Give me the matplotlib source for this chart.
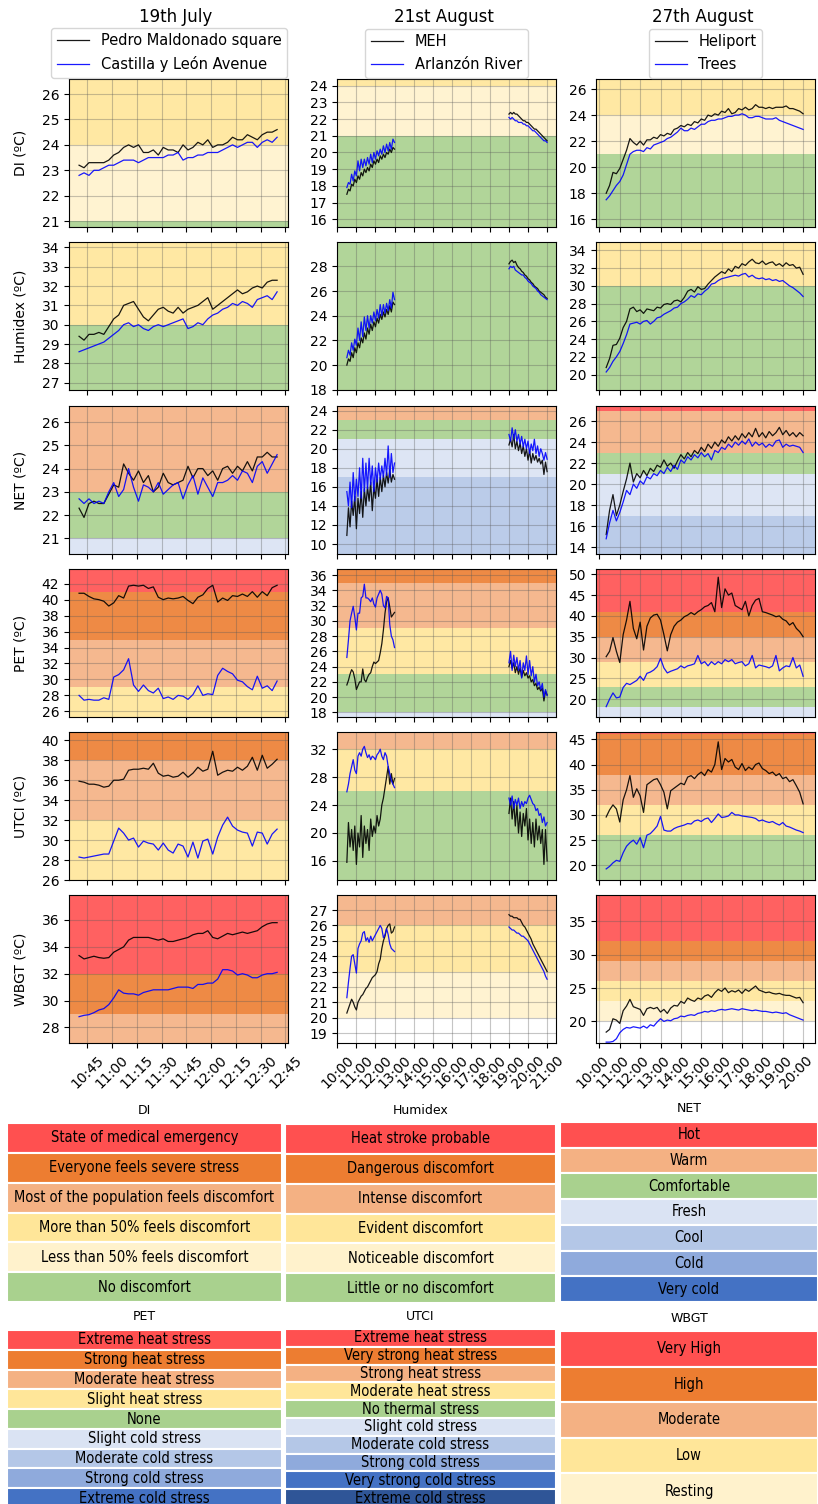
import numpy as np
import matplotlib
matplotlib.use("Agg")
import matplotlib.pyplot as plt
from matplotlib.ticker import MultipleLocator, FixedLocator, FuncFormatter
from matplotlib.transforms import ScaledTranslation
from matplotlib import font_manager

W, H = 818, 1504

# ---------- sampling times (minutes after midnight) ----------
JUL19_TIMES = list(range(640, 761, 3))
AUG21_TIMES = list(range(630, 781, 5)) + list(range(1140, 1261, 5))
AUG27_TIMES = list(range(620, 1201, 10))

# ---------- 19th July: Pedro Maldonado square / Castilla y Leon Avenue ----------
DI_JUL19_PEDRO = [23.2, 23.1, 23.3, 23.3, 23.3, 23.3, 23.4, 23.6, 23.7, 23.9,
                  24.0, 23.9, 24.0, 23.7, 23.7, 23.8, 23.6, 23.9, 23.8, 23.8,
                  23.7, 24.0, 23.8, 23.9, 24.1, 24.0, 24.2, 23.9, 24.0, 24.0,
                  24.1, 24.3, 24.2, 24.2, 24.4, 24.3, 24.2, 24.4, 24.5, 24.5, 24.6]
DI_JUL19_CASTILLA = [22.8, 22.9, 22.8, 23.0, 23.0, 23.1, 23.2, 23.2, 23.3, 23.4,
                     23.4, 23.4, 23.3, 23.4, 23.5, 23.5, 23.5, 23.5, 23.6, 23.6,
                     23.7, 23.4, 23.5, 23.5, 23.6, 23.6, 23.7, 23.7, 23.7, 23.8,
                     23.9, 24.0, 23.9, 24.0, 24.1, 24.1, 23.9, 24.1, 24.2, 24.1, 24.3]
HUMIDEX_JUL19_PEDRO = [29.4, 29.2, 29.5, 29.5, 29.6, 29.5, 29.9, 30.3, 30.5, 31.0,
                       31.1, 31.2, 30.8, 30.4, 30.2, 30.5, 30.8, 30.9, 30.7, 30.6,
                       30.9, 30.6, 30.8, 30.9, 31.0, 31.2, 31.4, 30.8, 31.0, 31.2,
                       31.4, 31.6, 31.8, 31.6, 31.7, 31.9, 32.0, 31.9, 32.2, 32.3, 32.3]
HUMIDEX_JUL19_CASTILLA = [28.6, 28.7, 28.8, 28.9, 29.0, 29.1, 29.3, 29.5, 29.7, 30.0,
                          30.1, 29.9, 30.0, 29.8, 29.7, 29.9, 30.0, 29.9, 30.0, 30.1,
                          30.2, 30.3, 29.8, 29.9, 30.1, 30.0, 30.3, 30.5, 30.6, 30.8,
                          30.9, 31.1, 31.0, 31.2, 31.1, 30.9, 31.3, 31.4, 31.5, 31.3, 31.7]
NET_JUL19_PEDRO = [22.3, 21.9, 22.5, 22.6, 22.5, 22.5, 22.9, 23.3, 23.2, 24.2,
                   23.8, 23.5, 23.9, 23.4, 23.7, 23.0, 23.2, 23.8, 23.4, 23.3,
                   23.4, 23.5, 24.1, 23.6, 24.0, 24.0, 23.7, 23.9, 23.5, 24.0,
                   24.1, 23.8, 24.1, 23.9, 24.3, 23.9, 24.5, 24.5, 24.7, 24.5, 24.5]
NET_JUL19_CASTILLA = [22.7, 22.5, 22.7, 22.5, 22.6, 22.5, 23.0, 23.4, 22.8, 23.1,
                      24.0, 23.2, 22.6, 23.3, 23.2, 23.0, 23.4, 22.9, 23.1, 23.3,
                      23.4, 22.7, 23.3, 23.7, 22.9, 23.6, 23.2, 22.8, 23.4, 23.4,
                      23.5, 23.7, 23.5, 23.9, 23.8, 23.4, 24.1, 24.3, 23.8, 24.2, 24.6]
PET_JUL19_PEDRO = [40.8, 40.8, 40.4, 40.1, 40.0, 39.8, 39.2, 39.6, 40.5, 40.2,
                   41.7, 41.8, 41.7, 41.8, 41.4, 41.6, 40.3, 40.0, 40.2, 40.1,
                   40.2, 40.4, 39.9, 39.5, 40.3, 40.6, 41.4, 41.8, 39.7, 40.2,
                   39.9, 40.5, 40.4, 40.7, 40.4, 41.0, 40.3, 41.0, 40.5, 41.5, 41.8]
PET_JUL19_CASTILLA = [28.0, 27.4, 27.5, 27.4, 27.4, 27.7, 27.5, 30.3, 30.6, 31.2,
                      32.6, 29.3, 28.5, 29.3, 28.6, 28.3, 28.9, 27.6, 27.8, 27.5,
                      28.0, 27.9, 27.5, 28.1, 29.2, 28.0, 28.2, 28.1, 30.5, 31.4,
                      31.0, 30.7, 29.9, 29.7, 29.1, 28.7, 30.4, 28.9, 29.2, 28.6, 29.8]
UTCI_JUL19_PEDRO = [35.9, 35.8, 35.6, 35.6, 35.5, 35.3, 35.4, 36.0, 36.0, 36.1,
                    37.0, 37.1, 37.1, 37.2, 37.1, 37.7, 36.7, 36.4, 36.5, 36.3,
                    36.4, 36.8, 36.3, 36.7, 37.3, 36.9, 37.1, 38.9, 36.5, 36.8,
                    37.0, 36.9, 37.3, 37.0, 37.4, 38.3, 37.0, 38.5, 37.2, 37.6, 38.1]
UTCI_JUL19_CASTILLA = [28.3, 28.2, 28.3, 28.4, 28.5, 28.6, 28.6, 29.9, 31.2, 30.7,
                       30.0, 30.2, 29.3, 29.9, 29.7, 29.6, 29.0, 29.7, 29.0, 28.7,
                       29.6, 29.4, 28.3, 29.8, 28.2, 29.9, 30.1, 28.6, 30.3, 31.5,
                       32.3, 31.4, 31.0, 30.8, 30.7, 29.4, 30.8, 30.7, 29.6, 30.6, 31.1]
WBGT_JUL19_PEDRO = [33.35, 33.1, 33.2, 33.3, 33.2, 33.15, 33.2, 33.6, 33.8, 34.0,
                    34.5, 34.7, 34.7, 34.7, 34.7, 34.6, 34.5, 34.6, 34.4, 34.4,
                    34.5, 34.6, 34.7, 34.9, 35.0, 35.0, 35.2, 34.7, 34.6, 34.8,
                    35.0, 34.9, 35.0, 35.1, 35.0, 35.1, 35.2, 35.5, 35.7, 35.8, 35.8]
WBGT_JUL19_CASTILLA = [28.8, 28.9, 28.95, 29.1, 29.3, 29.4, 29.7, 30.2, 30.8, 30.55,
                       30.5, 30.5, 30.4, 30.6, 30.7, 30.8, 30.8, 30.8, 30.8, 30.9,
                       31.0, 31.0, 31.0, 30.9, 31.2, 31.2, 31.3, 31.3, 31.6, 32.3,
                       32.3, 32.2, 31.9, 32.0, 31.9, 31.7, 31.7, 31.9, 32.0, 32.0, 32.1]

# ---------- 21st August: MEH / Arlanzon River (morning + evening) ----------
DI_AUG21_MEH = [17.5, 17.8, 17.7, 18.1, 18.0, 18.4, 18.2, 18.6, 18.4, 18.8,
                18.6, 19.0, 18.8, 19.1, 18.9, 19.3, 19.1, 19.5, 19.3, 19.6,
                19.4, 19.8, 19.6, 19.9, 19.7, 20.0, 19.9, 20.2, 20.0, 20.3, 20.2,
                22.3, 22.4, 22.3, 22.4, 22.3, 22.3, 22.2, 22.1, 22.0, 21.9,
                21.9, 21.8, 21.8, 21.7, 21.6, 21.5, 21.4, 21.4, 21.3, 21.2,
                21.1, 21.0, 20.9, 20.8, 20.7]
DI_AUG21_RIVER = [17.9, 18.2, 18.1, 18.7, 18.3, 18.9, 18.6, 19.5, 18.9, 19.6,
                  19.1, 19.6, 19.2, 19.7, 19.3, 19.9, 19.4, 20.0, 19.6, 20.1,
                  19.8, 20.2, 19.9, 20.4, 20.0, 20.5, 20.1, 20.6, 20.2, 20.8, 20.6,
                  22.1, 22.0, 22.1, 22.0, 21.9, 21.9, 21.8, 21.8, 21.8, 21.7,
                  21.7, 21.6, 21.6, 21.5, 21.4, 21.3, 21.3, 21.2, 21.1, 21.0,
                  20.9, 20.8, 20.7, 20.7, 20.6]
HUMIDEX_AUG21_MEH = [20.0, 20.5, 20.3, 21.0, 20.6, 21.4, 21.0, 21.8, 21.4, 22.2,
                     21.8, 22.6, 22.1, 23.0, 22.5, 23.3, 22.8, 23.5, 23.1, 23.8,
                     23.4, 24.1, 23.7, 24.3, 23.9, 24.5, 24.1, 24.8, 24.3, 25.1, 24.9,
                     28.2, 28.4, 28.5, 28.3, 28.4, 28.1, 27.9, 27.8, 27.6, 27.5,
                     27.3, 27.2, 27.0, 26.9, 26.7, 26.6, 26.4, 26.3, 26.2, 26.0,
                     25.9, 25.8, 25.7, 25.5, 25.4]
HUMIDEX_AUG21_RIVER = [20.6, 21.2, 20.8, 21.8, 21.2, 22.1, 21.6, 23.0, 22.0, 23.5,
                       22.3, 23.9, 22.8, 24.0, 23.0, 24.0, 23.4, 24.3, 23.6, 24.5,
                       23.8, 24.9, 24.0, 24.9, 24.2, 25.0, 24.4, 25.3, 24.6, 25.9, 25.3,
                       27.8, 28.0, 27.9, 28.0, 27.7, 27.6, 27.5, 27.4, 27.3, 27.3,
                       27.1, 27.0, 26.8, 26.7, 26.6, 26.4, 26.3, 26.2, 26.0, 25.9,
                       25.7, 25.6, 25.5, 25.4, 25.3]
NET_AUG21_MEH = [10.9, 13.8, 11.8, 14.5, 13.0, 15.0, 11.6, 14.8, 13.2, 15.5,
                 12.8, 15.8, 14.0, 16.0, 14.5, 16.5, 13.5, 16.0, 14.8, 16.8,
                 15.0, 17.0, 15.5, 17.2, 16.0, 17.5, 16.4, 17.8, 16.5, 17.3, 16.8,
                 20.4, 21.0, 20.2, 21.5, 20.0, 20.8, 19.8, 20.6, 19.5, 20.3,
                 19.2, 20.0, 18.8, 19.8, 18.5, 19.5, 18.8, 19.3, 18.6, 19.0,
                 18.4, 18.8, 17.3, 18.6, 17.6]
NET_AUG21_RIVER = [15.5, 14.0, 16.5, 13.8, 17.5, 14.5, 16.8, 15.0, 18.0, 14.8,
                   19.0, 15.5, 18.5, 15.8, 19.0, 16.2, 18.2, 15.5, 18.0, 16.5,
                   18.5, 16.8, 18.2, 17.0, 19.0, 17.2, 20.3, 17.0, 19.5, 17.5, 18.5,
                   21.5, 20.8, 22.2, 21.0, 22.0, 20.8, 21.5, 20.5, 21.3, 20.2,
                   21.0, 20.0, 20.8, 19.5, 20.5, 19.8, 21.0, 19.5, 20.3, 19.2,
                   20.0, 19.5, 18.8, 19.6, 18.9]
PET_AUG21_MEH = [21.6, 22.2, 23.0, 23.6, 23.3, 22.4, 21.0, 21.5, 22.0, 22.0,
                 23.7, 22.3, 22.0, 22.6, 23.0, 23.2, 24.0, 24.6, 24.4, 24.6,
                 24.8, 25.8, 27.0, 28.8, 31.0, 32.5, 33.0, 31.8, 30.5, 30.8, 31.1,
                 24.0, 24.8, 23.8, 24.5, 23.2, 24.0, 23.0, 23.8, 22.6, 23.5,
                 22.8, 23.2, 22.5, 22.8, 22.0, 22.3, 21.5, 21.8, 21.0, 21.3,
                 20.8, 21.2, 19.5, 20.8, 20.3]
PET_AUG21_RIVER = [25.2, 27.5, 30.0, 31.0, 31.9, 30.5, 28.8, 31.0, 31.0, 33.0,
                   33.2, 34.8, 33.0, 33.0, 32.8, 32.5, 33.0, 32.2, 31.8, 33.0,
                   33.5, 34.0, 33.5, 32.0, 31.7, 33.2, 33.0, 29.5, 28.0, 27.5, 26.5,
                   24.5, 26.0, 23.5, 25.5, 24.0, 25.2, 23.5, 24.8, 22.5, 24.5,
                   23.5, 25.4, 23.0, 24.8, 22.8, 24.0, 22.0, 23.0, 21.5, 22.0,
                   21.0, 21.8, 20.0, 21.0, 20.2]
UTCI_AUG21_MEH = [15.8, 21.5, 18.0, 20.5, 17.5, 21.0, 15.5, 20.0, 18.0, 22.5,
                  16.5, 21.0, 18.5, 20.5, 17.5, 22.0, 19.5, 21.0, 20.0, 22.5,
                  21.0, 22.0, 24.0, 25.0, 26.5, 28.0, 29.5, 27.0, 28.5, 27.0, 27.8,
                  22.8, 25.0, 22.0, 24.5, 21.0, 24.0, 20.0, 23.0, 19.5, 22.8,
                  21.0, 23.5, 19.0, 22.0, 18.5, 21.5, 18.0, 22.0, 19.0, 21.0,
                  18.5, 20.5, 15.5, 20.5, 16.0]
UTCI_AUG21_RIVER = [25.9, 27.0, 28.5, 29.5, 30.5, 29.0, 28.5, 31.0, 31.5, 31.0,
                    32.0, 32.4, 31.5, 30.8, 31.2, 30.5, 31.0, 30.8, 30.5, 31.2,
                    31.5, 32.0, 31.0, 30.5, 31.5, 31.0, 29.5, 28.5, 27.5, 27.0, 26.5,
                    25.0, 24.0, 25.3, 23.5, 24.8, 24.0, 25.0, 23.5, 24.5, 23.8,
                    24.5, 24.2, 25.0, 25.4, 24.8, 24.2, 24.0, 23.2, 23.5, 22.5,
                    22.8, 21.5, 22.3, 21.0, 21.5]
WBGT_AUG21_MEH = [20.3, 20.6, 20.9, 21.2, 21.0, 20.7, 20.5, 21.0, 21.2, 21.4,
                  21.5, 21.7, 21.9, 22.0, 22.2, 22.4, 22.6, 22.7, 22.8, 23.0,
                  23.5, 23.8, 24.5, 25.0, 25.3, 25.8, 26.0, 26.1, 25.5, 25.6, 25.9,
                  26.7, 26.6, 26.6, 26.5, 26.5, 26.5, 26.4, 26.4, 26.2, 26.0,
                  25.9, 25.7, 25.5, 25.3, 25.1, 24.8, 24.6, 24.4, 24.2, 24.0,
                  23.8, 23.6, 23.4, 23.2, 23.0]
WBGT_AUG21_RIVER = [21.3, 22.3, 23.2, 24.0, 24.1, 23.5, 22.9, 24.5, 24.8, 25.0,
                    25.5, 25.6, 25.0, 25.2, 24.9, 25.3, 25.0, 25.2, 25.4, 25.6,
                    25.8, 26.0, 25.8, 25.2, 25.4, 25.8, 25.4, 24.8, 24.5, 24.4, 24.3,
                    25.9, 25.8, 25.7, 25.7, 25.6, 25.5, 25.5, 25.4, 25.3, 25.3,
                    25.2, 25.1, 25.0, 24.8, 24.6, 24.4, 24.2, 24.0, 23.8, 23.6,
                    23.4, 23.2, 23.0, 22.7, 22.5]

# ---------- 27th August: Heliport / Trees ----------
DI_AUG27_HELIPORT = [18.0, 18.6, 19.6, 19.5, 19.9, 20.6, 21.3, 22.2, 21.9, 21.7,
                     22.0, 21.7, 22.1, 22.1, 22.3, 22.2, 22.5, 22.4, 22.6, 22.5,
                     22.9, 23.0, 23.2, 23.1, 23.3, 23.2, 23.5, 23.4, 23.7, 23.6,
                     24.0, 23.9, 24.1, 24.0, 24.3, 24.2, 24.5, 24.1, 24.2, 24.5,
                     24.4, 24.6, 24.4, 24.5, 24.8, 24.6, 24.6, 24.5, 24.6, 24.5,
                     24.6, 24.6, 24.6, 24.7, 24.5, 24.5, 24.4, 24.3, 24.1]
DI_AUG27_TREES = [17.5, 17.8, 18.2, 18.6, 18.9, 19.4, 20.2, 21.0, 21.2, 21.3,
                  21.3, 21.2, 21.5, 21.4, 21.7, 21.8, 21.9, 22.0, 22.2, 22.3,
                  22.5, 22.7, 23.0, 22.8, 22.8, 23.0, 22.9, 23.1, 23.3, 23.3,
                  23.5, 23.6, 23.6, 23.7, 23.7, 23.8, 23.9, 23.9, 24.0, 24.0,
                  24.1, 24.0, 23.8, 23.8, 23.9, 23.9, 23.8, 23.7, 23.7, 23.7,
                  23.8, 23.6, 23.5, 23.4, 23.3, 23.2, 23.1, 23.0, 22.9]
HUMIDEX_AUG27_HELIPORT = [20.8, 21.8, 23.3, 23.4, 24.1, 25.3, 26.0, 27.4, 27.6, 27.1,
                          27.3, 26.9, 27.4, 27.3, 27.2, 27.6, 27.5, 27.9, 28.0, 27.9,
                          28.3, 28.4, 28.2, 28.7, 29.4, 29.6, 29.3, 29.9, 29.6, 29.7,
                          30.2, 30.6, 31.0, 31.3, 31.6, 31.4, 31.9, 31.6, 32.2, 32.0,
                          32.5, 32.3, 32.7, 33.0, 32.6, 32.5, 32.8, 32.4, 32.6, 32.7,
                          32.3, 32.5, 32.2, 32.6, 32.3, 32.4, 32.0, 32.1, 31.3]
HUMIDEX_AUG27_TREES = [20.3, 20.8, 21.5, 22.0, 22.6, 23.5, 24.5, 25.7, 25.8, 25.9,
                       25.7, 26.0, 26.1, 25.7, 26.0, 26.4, 26.5, 26.8, 27.0, 27.2,
                       27.5, 27.6, 28.0, 28.2, 28.5, 28.9, 28.7, 29.1, 29.0, 29.4,
                       29.7, 30.2, 30.3, 30.6, 30.8, 30.9, 31.0, 31.1, 31.2, 31.1,
                       31.3, 31.4, 31.0, 31.2, 30.9, 30.8, 30.9, 30.7, 30.8, 30.6,
                       30.7, 30.5, 30.6, 30.3, 30.0, 29.8, 29.5, 29.2, 28.8]
NET_AUG27_HELIPORT = [15.2, 17.5, 19.0, 17.0, 18.0, 19.3, 20.5, 22.0, 20.2, 21.0,
                      20.6, 21.3, 20.8, 21.5, 21.2, 21.8, 21.6, 22.3, 21.7, 22.0,
                      21.5, 22.2, 22.8, 22.4, 23.0, 22.6, 23.2, 22.9, 23.5, 23.1,
                      23.8, 23.4, 24.0, 23.6, 24.2, 23.9, 24.5, 24.1, 24.6, 24.2,
                      24.8, 24.4, 24.9, 24.5, 25.3, 24.5, 24.9, 24.4, 25.0, 24.6,
                      24.9, 25.4, 24.7, 25.1, 24.6, 24.9, 24.5, 24.9, 24.6]
NET_AUG27_TREES = [14.8, 16.3, 17.5, 16.5, 17.3, 18.3, 19.4, 19.0, 20.0, 19.6,
                   20.3, 20.0, 20.7, 20.5, 21.0, 20.8, 21.3, 21.0, 21.6, 21.2,
                   21.8, 21.4, 22.3, 22.0, 22.6, 22.3, 22.8, 22.5, 23.0, 22.6,
                   22.9, 22.3, 23.2, 23.0, 23.5, 23.3, 23.8, 23.5, 24.0, 23.7,
                   24.1, 23.8, 24.3, 23.6, 24.0, 23.7, 23.9, 23.5, 23.8, 23.6,
                   24.1, 24.2, 23.5, 23.8, 23.6, 23.7, 23.6, 23.5, 23.0]
PET_AUG27_HELIPORT = [30.2, 31.5, 34.8, 31.5, 28.8, 35.5, 39.0, 43.5, 37.0, 34.5,
                      38.5, 31.8, 37.5, 39.5, 40.2, 40.4, 39.0, 35.5, 31.6, 35.5,
                      37.5, 38.5, 39.0, 39.8, 40.2, 40.8, 40.3, 41.0, 41.5, 42.2,
                      42.5, 43.2, 41.0, 49.3, 42.0, 46.5, 45.0, 45.5, 42.5, 42.0,
                      41.5, 43.5, 40.0, 42.5, 43.8, 44.2, 41.0, 40.8, 40.5, 40.2,
                      39.8, 40.0, 39.2, 38.8, 37.8, 38.4, 37.0, 36.2, 35.0]
PET_AUG27_TREES = [18.2, 20.0, 21.5, 20.3, 20.5, 22.8, 23.8, 23.5, 24.0, 24.5,
                   25.5, 24.5, 26.2, 26.5, 27.0, 27.8, 29.8, 27.5, 26.3, 26.7,
                   27.0, 27.3, 28.0, 27.5, 28.0, 28.2, 28.5, 30.5, 28.5, 29.0,
                   28.0, 29.0, 28.3, 29.0, 28.5, 29.5, 29.0, 29.5, 28.5, 28.8,
                   29.0, 28.0, 28.5, 30.5, 27.5, 28.2, 28.0, 27.8, 27.5, 28.0,
                   30.5, 26.8, 27.5, 28.0, 27.8, 30.0, 27.5, 28.2, 25.5]
UTCI_AUG27_HELIPORT = [29.6, 31.0, 32.0, 31.2, 28.6, 33.0, 35.0, 37.8, 33.5, 35.2,
                       33.8, 30.5, 36.0, 36.5, 37.0, 37.2, 36.0, 34.5, 31.2, 34.8,
                       35.3, 35.8, 36.3, 36.0, 37.5, 37.8, 37.2, 38.0, 38.5, 37.8,
                       39.0, 38.5, 40.0, 44.5, 39.0, 41.2, 40.5, 41.0, 39.5, 39.0,
                       40.2, 38.8, 39.5, 39.0, 40.0, 40.3, 39.2, 38.8, 38.2, 38.5,
                       37.8, 38.2, 37.2, 37.5, 36.6, 37.0, 35.8, 34.5, 32.2]
UTCI_AUG27_TREES = [19.3, 19.8, 20.5, 21.0, 20.8, 22.5, 23.8, 24.5, 25.0, 24.2,
                    25.5, 23.5, 26.0, 26.3, 27.0, 27.8, 29.7, 27.0, 26.8, 26.8,
                    27.3, 27.6, 27.8, 28.0, 28.3, 28.2, 28.8, 29.0, 28.7, 29.2,
                    29.4, 28.5, 29.3, 30.2, 29.5, 29.6, 29.8, 30.5, 30.0, 30.0,
                    29.8, 29.7, 29.6, 29.5, 29.3, 28.8, 29.0, 28.7, 28.5, 28.7,
                    28.3, 28.0, 28.5, 27.8, 27.6, 27.3, 27.0, 26.8, 26.5]
WBGT_AUG27_HELIPORT = [18.4, 18.8, 20.4, 20.2, 19.7, 21.6, 22.3, 23.3, 22.2, 22.0,
                       21.8, 20.9, 21.9, 22.1, 21.9, 22.1, 21.4, 21.8, 21.2, 22.0,
                       22.4, 22.3, 23.0, 22.7, 23.5, 23.2, 23.0, 23.5, 23.3, 23.8,
                       24.0, 23.6, 24.3, 24.8, 24.5, 25.0, 24.3, 24.6, 24.4, 24.7,
                       24.2, 24.8, 24.5, 24.9, 25.3, 24.7, 24.5, 24.3, 24.4, 24.2,
                       24.1, 24.2, 24.0, 23.9, 23.9, 23.7, 23.5, 23.6, 22.8]
WBGT_AUG27_TREES = [16.9, 16.9, 17.0, 17.4, 18.3, 18.8, 19.1, 19.0, 19.2, 19.1,
                    19.0, 19.3, 19.0, 19.5, 19.3, 19.9, 20.4, 20.0, 20.2, 20.1,
                    20.4, 20.5, 20.8, 20.7, 20.9, 21.0, 20.9, 21.2, 21.3, 21.5,
                    21.4, 21.6, 21.5, 21.7, 21.8, 21.7, 21.8, 21.9, 21.8, 21.7,
                    21.9, 21.8, 21.7, 21.6, 21.7, 21.6, 21.5, 21.5, 21.4, 21.3,
                    21.4, 21.3, 21.2, 21.3, 21.0, 20.8, 20.6, 20.4, 20.2]

DAY_TITLES = ["19th July", "21st August", "27th August"]
SITES = [["Pedro Maldonado square", "Castilla y León Avenue"],
         ["MEH", "Arlanzón River"],
         ["Heliport", "Trees"]]
INDICES = ["DI", "Humidex", "NET", "PET", "UTCI", "WBGT"]

# ---------- colours ----------
RED = "#FF5050"
ORANGE = "#ED7D31"
LORANGE = "#F4B183"
YELLOW = "#FFE699"
LYELLOW = "#FFF2CC"
GREEN = "#A9D18E"
FRESH = "#DAE3F3"
COOL = "#B4C7E7"
COLD = "#8FAADC"
VCOLD = "#4472C4"
XCOLD = "#2F5597"

# comfort bands (lower, upper, colour)
BANDS = {
    "DI": [(-99, 21, GREEN), (21, 24, LYELLOW), (24, 27, YELLOW), (27, 29, LORANGE),
           (29, 32, ORANGE), (32, 99, RED)],
    "Humidex": [(-99, 30, GREEN), (30, 40, YELLOW), (40, 45, LORANGE), (45, 54, ORANGE),
                (54, 99, RED)],
    "NET": [(-99, 1, VCOLD), (1, 9, COLD), (9, 17, COOL), (17, 21, FRESH), (21, 23, GREEN),
            (23, 27, LORANGE), (27, 99, RED)],
    "PET": [(-99, 4, VCOLD), (4, 8, COLD), (8, 13, COOL), (13, 18, FRESH), (18, 23, GREEN),
            (23, 29, YELLOW), (29, 35, LORANGE), (35, 41, ORANGE), (41, 99, RED)],
    "UTCI": [(-99, 0, COOL), (0, 9, FRESH), (9, 26, GREEN), (26, 32, YELLOW),
             (32, 38, LORANGE), (38, 46, ORANGE), (46, 99, RED)],
    "WBGT": [(20, 23, LYELLOW), (23, 26, YELLOW), (26, 29, LORANGE), (29, 32, ORANGE),
             (32, 99, RED)],
}

# y limits and tick step per (index, day)
YLIMS = {
    "DI": [(20.77, 26.59), (15.54, 24.4), (15.41, 26.77)],
    "Humidex": [(26.62, 34.28), (17.98, 29.97), (18.27, 34.94)],
    "NET": [(20.33, 26.69), (8.95, 24.49), (13.35, 27.43)],
    "PET": [(25.29, 43.84), (17.4, 36.79), (15.71, 51.27)],
    "UTCI": [(26.0, 40.83), (13.27, 34.46), (17.1, 46.45)],
    "WBGT": [(26.84, 37.86), (18.35, 27.98), (16.77, 38.92)],
}
YSTEPS = {"DI": [1, 1, 2], "Humidex": [1, 2, 2], "NET": [1, 2, 2],
          "PET": [2, 2, 5], "UTCI": [2, 4, 5], "WBGT": [2, 1, 5]}

DAY_TIMES = [JUL19_TIMES, AUG21_TIMES, AUG27_TIMES]
XLIMS = [(633.9, 766.6), (599, 1288), (590, 1235)]
XTICKS = [list(range(645, 766, 15)), list(range(600, 1261, 60)), list(range(600, 1201, 60))]

SERIES = {
    "DI": [(DI_JUL19_PEDRO, DI_JUL19_CASTILLA), (DI_AUG21_MEH, DI_AUG21_RIVER),
           (DI_AUG27_HELIPORT, DI_AUG27_TREES)],
    "Humidex": [(HUMIDEX_JUL19_PEDRO, HUMIDEX_JUL19_CASTILLA),
                (HUMIDEX_AUG21_MEH, HUMIDEX_AUG21_RIVER),
                (HUMIDEX_AUG27_HELIPORT, HUMIDEX_AUG27_TREES)],
    "NET": [(NET_JUL19_PEDRO, NET_JUL19_CASTILLA), (NET_AUG21_MEH, NET_AUG21_RIVER),
            (NET_AUG27_HELIPORT, NET_AUG27_TREES)],
    "PET": [(PET_JUL19_PEDRO, PET_JUL19_CASTILLA), (PET_AUG21_MEH, PET_AUG21_RIVER),
            (PET_AUG27_HELIPORT, PET_AUG27_TREES)],
    "UTCI": [(UTCI_JUL19_PEDRO, UTCI_JUL19_CASTILLA), (UTCI_AUG21_MEH, UTCI_AUG21_RIVER),
             (UTCI_AUG27_HELIPORT, UTCI_AUG27_TREES)],
    "WBGT": [(WBGT_JUL19_PEDRO, WBGT_JUL19_CASTILLA), (WBGT_AUG21_MEH, WBGT_AUG21_RIVER),
             (WBGT_AUG27_HELIPORT, WBGT_AUG27_TREES)],
}

# ---------- legend tables ----------
DI_LABELS = ["State of medical emergency", "Everyone feels severe stress",
             "Most of the population feels discomfort", "More than 50% feels discomfort",
             "Less than 50% feels discomfort", "No discomfort"]
DI_COLORS = [RED, ORANGE, LORANGE, YELLOW, LYELLOW, GREEN]
HUMIDEX_LABELS = ["Heat stroke probable", "Dangerous discomfort", "Intense discomfort",
                  "Evident discomfort", "Noticeable discomfort", "Little or no discomfort"]
HUMIDEX_COLORS = [RED, ORANGE, LORANGE, YELLOW, LYELLOW, GREEN]
NET_LABELS = ["Hot", "Warm", "Comfortable", "Fresh", "Cool", "Cold", "Very cold"]
NET_COLORS = [RED, LORANGE, GREEN, FRESH, COOL, COLD, VCOLD]
PET_LABELS = ["Extreme heat stress", "Strong heat stress", "Moderate heat stress",
              "Slight heat stress", "None", "Slight cold stress", "Moderate cold stress",
              "Strong cold stress", "Extreme cold stress"]
PET_COLORS = [RED, ORANGE, LORANGE, YELLOW, GREEN, FRESH, COOL, COLD, VCOLD]
UTCI_LABELS = ["Extreme heat stress", "Very strong heat stress", "Strong heat stress",
               "Moderate heat stress", "No thermal stress", "Slight cold stress",
               "Moderate cold stress", "Strong cold stress", "Very strong cold stress",
               "Extreme cold stress"]
UTCI_COLORS = [RED, ORANGE, LORANGE, YELLOW, GREEN, FRESH, COOL, COLD, VCOLD, XCOLD]
WBGT_LABELS = ["Very High", "High", "Moderate", "Low", "Resting"]
WBGT_COLORS = [RED, ORANGE, LORANGE, YELLOW, LYELLOW]

# ---------- layout (pixels) ----------
COL_LEFT = [69, 337, 596]
AX_W = 219
ROW_TOP = [79, 242, 406, 569, 732, 895]
AX_H = 148

fig = plt.figure(figsize=(W / 100, H / 100), dpi=100)


def px_axes(left, top, width, height):
    return fig.add_axes([left / W, 1 - (top + height) / H, width / W, height / H])


def hhmm(v, pos):
    v = int(round(v))
    return f"{v // 60:02d}:{v % 60:02d}"


for r, idx in enumerate(INDICES):
    for c in range(3):
        ax = px_axes(COL_LEFT[c], ROW_TOP[r], AX_W, AX_H)
        for lo, hi, col in BANDS[idx]:
            ax.axhspan(lo, hi, color=col, alpha=0.9, lw=0, zorder=0)

        t = np.array(DAY_TIMES[c], float)
        breaks = np.where(np.diff(t) > 60)[0] + 1
        handles = []
        for vals, colr in zip(SERIES[idx][c], ["black", "blue"]):
            v = np.array(vals, float)
            for k, (tt, vv) in enumerate(zip(np.split(t, breaks), np.split(v, breaks))):
                ln, = ax.plot(tt, vv, color=colr, lw=0.9, alpha=0.9)
                if k == 0:
                    handles.append(ln)

        ax.set_xlim(*XLIMS[c])
        ax.set_ylim(*YLIMS[idx][c])
        ax.yaxis.set_major_locator(MultipleLocator(YSTEPS[idx][c]))
        ax.xaxis.set_major_locator(FixedLocator(XTICKS[c]))
        ax.xaxis.set_major_formatter(FuncFormatter(hhmm))
        ax.grid(True, color="0.35", alpha=0.35, lw=0.8)
        ax.tick_params(labelsize=10)
        if r < 5:
            ax.tick_params(labelbottom=False)
        else:
            plt.setp(ax.get_xticklabels(), rotation=45)
            if c == 2:
                # keep the last label inside the figure
                off = ScaledTranslation(-7 / 100, 0, fig.dpi_scale_trans)
                for lab in ax.get_xticklabels():
                    lab.set_transform(lab.get_transform() + off)
        if c == 0:
            ax.set_ylabel(f"{idx} (ºC)", fontsize=10)
            ax.yaxis.set_label_coords(-0.19, 0.5)
        if r == 0:
            xa = 0.457 if c == 0 else 0.5
            ax.legend(handles, SITES[c], loc="lower center", bbox_to_anchor=(xa, 1.0),
                      borderaxespad=0.1, fontsize=10.5, handlelength=2.2)
            fig.text((COL_LEFT[c] + AX_W / 2 - 3) / W, 1 - 17 / H, DAY_TITLES[c],
                     ha="center", va="center", fontsize=12)

# table font: condensed DejaVu if available
cond_path = font_manager.findfont(
    font_manager.FontProperties(family="DejaVu Sans", stretch="condensed"))
if "Condensed" in cond_path:
    TABLE_FONT = dict(family="DejaVu Sans", stretch="condensed", size=10.5)
else:
    TABLE_FONT = dict(family="DejaVu Sans", size=8.8)


def draw_table(left, top, width, height, title, labels, colors):
    ax = px_axes(left, top, width, height)
    n = len(labels)
    y = np.arange(n)[::-1] + 0.5
    ax.barh(y, [1] * n, height=1, left=0, color=colors, edgecolor="white", linewidth=1.5)
    for yi, lab in zip(y, labels):
        ax.text(0.5, yi, lab, ha="center", va="center", color="black", **TABLE_FONT)
    ax.set_xlim(0, 1)
    ax.set_ylim(0, n)
    ax.axis("off")
    fig.text((left + width / 2) / W, 1 - (top - 13) / H, title, ha="center",
             va="center", fontsize=9)


draw_table(7, 1123, 275, 179, "DI", DI_LABELS, DI_COLORS)
draw_table(285, 1124, 271, 179, "Humidex", HUMIDEX_LABELS, HUMIDEX_COLORS)
draw_table(560, 1122, 258, 180, "NET", NET_LABELS, NET_COLORS)
draw_table(7, 1330, 275, 178, "PET", PET_LABELS, PET_COLORS)
draw_table(285, 1329, 271, 178, "UTCI", UTCI_LABELS, UTCI_COLORS)
draw_table(560, 1331, 258, 178, "WBGT", WBGT_LABELS, WBGT_COLORS)

fig.savefig("out.png", dpi=100)
